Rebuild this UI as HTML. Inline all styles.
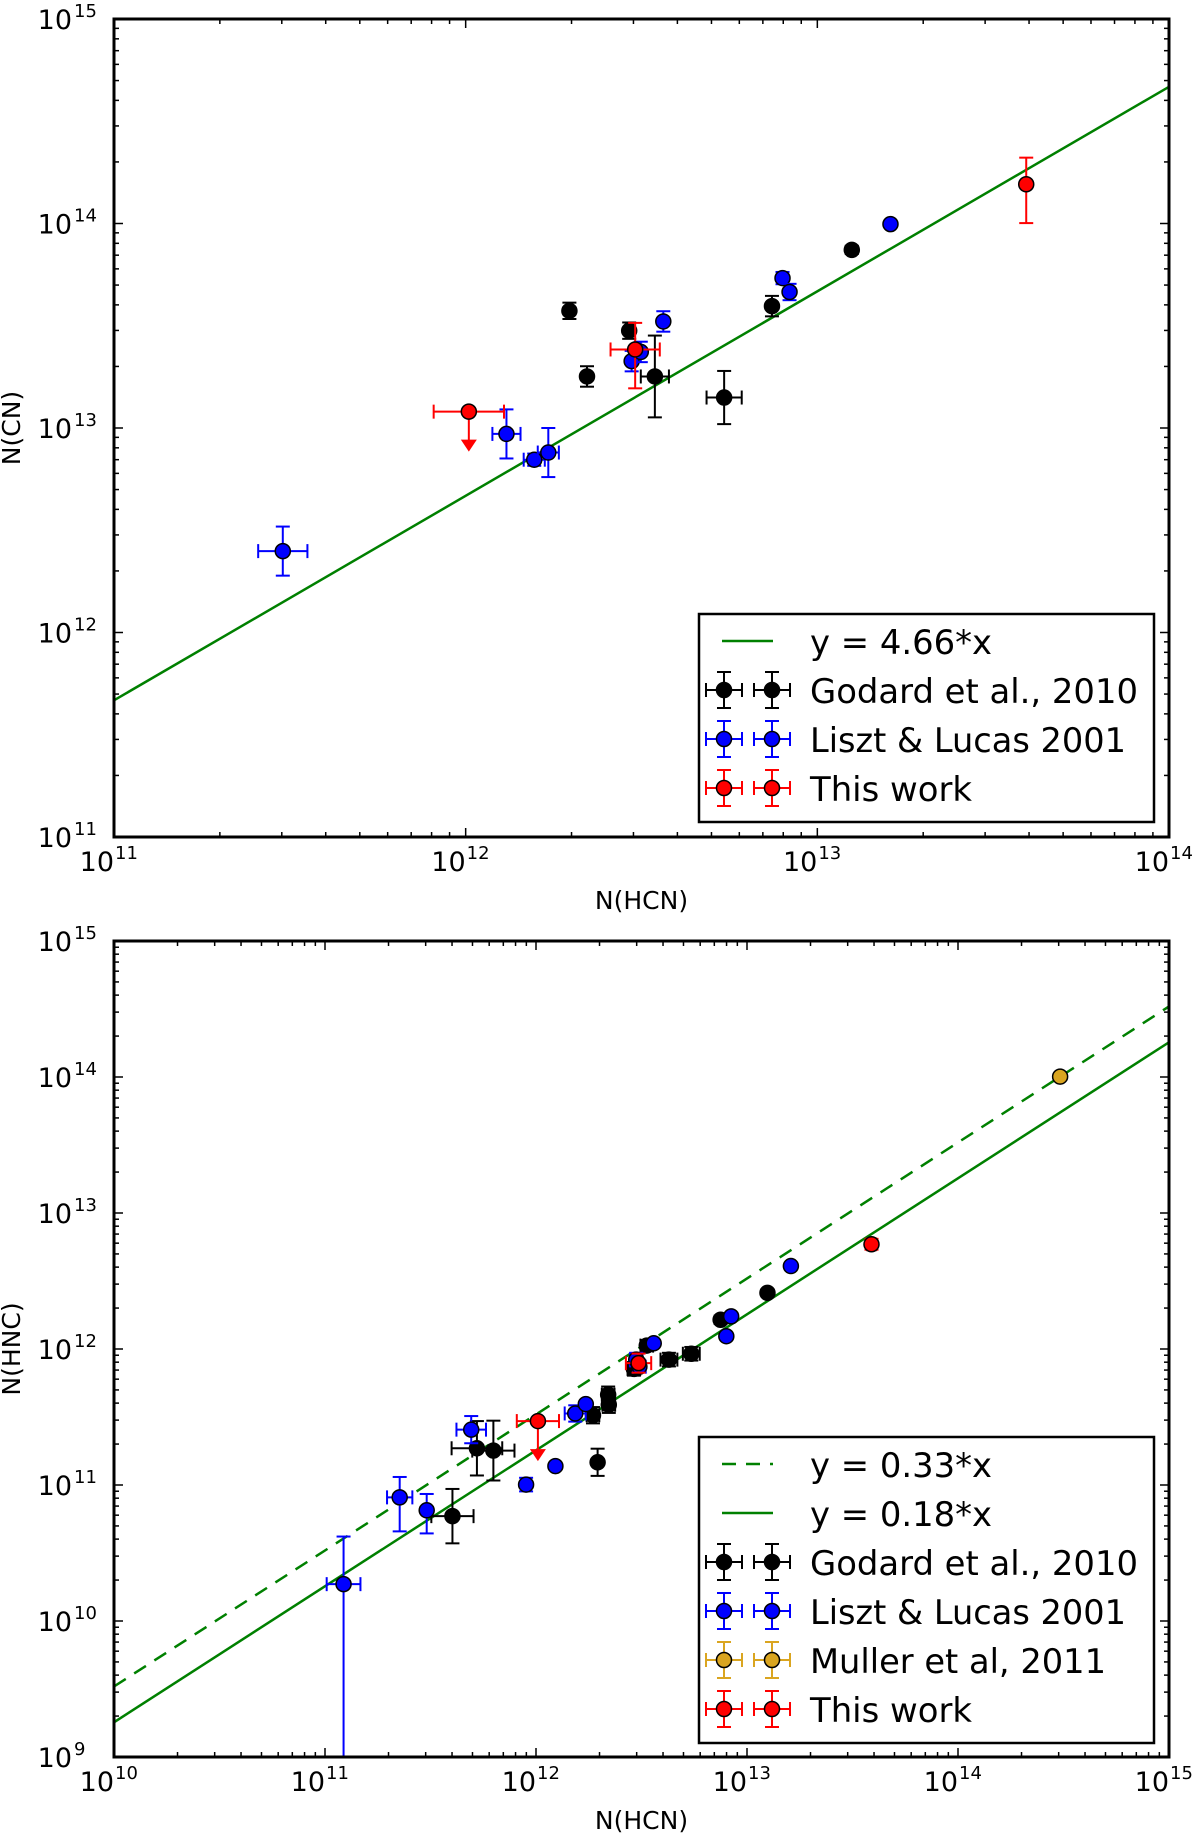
<!DOCTYPE html>
<html><head><meta charset="utf-8"><style>
html,body{margin:0;padding:0;background:#fff;}
svg{display:block;font-family:"DejaVu Sans","Liberation Sans",sans-serif;}
</style></head><body>
<svg id="fig" width="1200" height="1837" viewBox="0 0 1200 1837" xmlns="http://www.w3.org/2000/svg"></svg>
<script>
// ---- Top panel data (log10 values) ----
const topGodardX = [12.295, 12.345, 12.465, 12.538, 12.735, 12.871, 13.098];
const topGodardY = [13.573, 13.252, 13.476, 13.252, 13.149, 13.596, 13.871];
const topGodardXerr = [0, 0, 0, 0.04, 0.05, 0, 0];
const topGodardYerr = [0.04, 0.05, 0.04, 0.2, 0.13, 0.05, 0.02];
const topLisztX = [11.48, 12.116, 12.195, 12.235, 12.472, 12.498, 12.562, 12.901, 12.921, 13.208];
const topLisztY = [12.398, 12.971, 12.845, 12.880, 13.327, 13.372, 13.521, 13.733, 13.665, 13.997];
const topLisztXerr = [0.07, 0.04, 0.03, 0.03, 0, 0, 0, 0, 0, 0];
const topLisztYerr = [0.12, 0.12, 0.03, 0.12, 0.05, 0.05, 0.05, 0.03, 0.04, 0.0];
const topRedX = [12.482, 13.594];
const topRedY = [13.384, 14.192];
const topRedXerr = [0.07, 0.0];
const topRedYup = [0.13, 0.13];
const topRedYdn = [0.19, 0.19];
const topLimitX = [12.009];
const topLimitY = [13.080];
const topLimitXerr = [0.1];
const topFit = [4.66];

// ---- Bottom panel data (log10 values) ----
const botGodardX = [11.604, 11.720, 11.798, 12.292, 12.270, 12.342, 12.464, 12.525, 12.63, 12.736, 12.875, 13.097, 12.345];
const botGodardY = [10.771, 11.270, 11.253, 11.167, 11.513, 11.664, 11.854, 12.025, 11.922, 11.965, 12.215, 12.413, 11.59];
const botGodardXerr = [0.1, 0.12, 0.1, 0, 0.03, 0.03, 0.03, 0.03, 0.04, 0.04, 0, 0, 0.03];
const botGodardYerr = [0.2, 0.2, 0.22, 0.1, 0.06, 0.06, 0.05, 0.04, 0.05, 0.05, 0.03, 0.0, 0.06];
const botLisztX = [11.088, 11.354, 11.482, 11.693, 11.953, 12.092, 12.186, 12.236, 12.475, 12.558, 12.902, 12.925, 13.208, 12.49];
const botLisztY = [10.271, 10.909, 10.814, 11.407, 11.003, 11.139, 11.526, 11.595, 11.922, 12.042, 12.094, 12.240, 12.610, 11.87];
const botLisztXerr = [0.08, 0.06, 0.0, 0.07, 0.0, 0.0, 0.05, 0.0, 0.03, 0.0, 0, 0, 0, 0.03];
const botLisztYup = [0.35, 0.15, 0.12, 0.1, 0.05, 0.0, 0.06, 0.0, 0.05, 0.0, 0, 0, 0, 0.04];
const botLisztYdn = [1.3, 0.25, 0.17, 0.1, 0.05, 0.0, 0.06, 0.0, 0.05, 0.0, 0, 0, 0, 0.04];
const botRedX = [12.486, 13.590];
const botRedY = [11.896, 12.77];
const botRedXerr = [0.06, 0.02];
const botRedYerr = [0.07, 0.04];
const botLimitX = [12.009];
const botLimitY = [11.47];
const botLimitXerr = [0.1];
const botMullerX = [14.484];
const botMullerY = [14.003];
const botFits = [0.33, 0.18];

const NS = "http://www.w3.org/2000/svg";
const svg = document.getElementById('fig');
function mk(tag, attrs, parent) {
  const e = document.createElementNS(NS, tag);
  for (const k in attrs) e.setAttribute(k, attrs[k]);
  (parent || svg).appendChild(e);
  return e;
}

function panel(cfg) {
  const g = mk('g', {});
  
  
  const L = 114, R = 1169, T = cfg.top, B = cfg.bottom;
  const sx = v => L + (v - cfg.x0) / (cfg.x1 - cfg.x0) * (R - L);
  const sy = v => B - (v - cfg.y0) / (cfg.y1 - cfg.y0) * (B - T);
  const clipId = 'clip' + cfg.name;
  const defs = mk('defs', {}, g);
  const cp = mk('clipPath', {id: clipId}, defs);
  mk('rect', {x: L, y: T, width: R - L, height: B - T}, cp);
  const ticks = mk('g', {stroke: '#000', 'stroke-width': 1.5}, g);
  
  
  for (let d = cfg.x0; d <= cfg.x1; d++) {
    for (let m = 1; m <= 9; m++) {
      const v = d + Math.log10(m);
      if (v > cfg.x1 + 1e-9) break;
      const len = m === 1 ? 9 : 5;
      const x = sx(v);
      mk('line', {x1: x, y1: B, x2: x, y2: B - len}, ticks);
      mk('line', {x1: x, y1: T, x2: x, y2: T + len}, ticks);
    }
    const lbl = mk('text', {x: sx(d), y: B + 34, 'font-size': 27, 'text-anchor': 'end'}, g);
    lbl.textContent = '10';
    
    
    const sup = mk('text', {x: sx(d) + 1, y: B + 22, 'font-size': 18}, g);
    sup.textContent = String(d);
  }
  for (let d = cfg.y0; d <= cfg.y1; d++) {
    for (let m = 1; m <= 9; m++) {
      const v = d + Math.log10(m);
      if (v > cfg.y1 + 1e-9) break;
      const len = m === 1 ? 9 : 5;
      const y = sy(v);
      mk('line', {x1: L, y1: y, x2: L + len, y2: y}, ticks);
      mk('line', {x1: R, y1: y, x2: R - len, y2: y}, ticks);
    }
    const lbl = mk('text', {x: 72, y: sy(d) + 10, 'font-size': 27, 'text-anchor': 'end'}, g);
    lbl.textContent = '10';
    
    
    const sup = mk('text', {x: 74, y: sy(d) - 2, 'font-size': 18}, g);
    sup.textContent = String(d);
  }
  const xt = mk('text', {x: (L + R) / 2, y: B + 72, 'font-size': 25, 'text-anchor': 'middle'}, g);
  xt.textContent = cfg.xlabel;
  
  
  const yt = mk('text', {x: 0, y: 0, 'font-size': 25, 'text-anchor': 'middle', transform: `translate(20,${(T + B) / 2}) rotate(-90)`}, g);
  yt.textContent = cfg.ylabel;
  
  

  const plot = mk('g', {'clip-path': `url(#${clipId})`}, g);
  cfg.fits.forEach((f, i) => {
    const lx0 = cfg.x0, lx1 = cfg.x1;
    const ln = mk('line', {x1: sx(lx0), y1: sy(lx0 + Math.log10(f)), x2: sx(lx1), y2: sy(lx1 + Math.log10(f)), stroke: '#008000', 'stroke-width': 2.5}, plot);
    if (cfg.fitDash[i]) ln.setAttribute('stroke-dasharray', '14,10');
    
    
  });
  cfg.series.forEach(s => {
    const sg = mk('g', {}, plot);
    
    
    s.x.forEach((xv, i) => {
      const cx = sx(xv), cy = sy(s.y[i]);
      const ex = s.xe ? s.xe[i] : 0;
      const eu = s.yu ? s.yu[i] : 0, ed = s.yd ? s.yd[i] : 0;
      const st = {stroke: s.ecolor, 'stroke-width': 2};
      const cap = 7;
      if (ex > 0) {
        const xa = sx(xv - ex), xb = sx(xv + ex);
        mk('line', Object.assign({x1: xa, y1: cy, x2: xb, y2: cy}, st), sg);
        mk('line', Object.assign({x1: xa, y1: cy - cap, x2: xa, y2: cy + cap}, st), sg);
        mk('line', Object.assign({x1: xb, y1: cy - cap, x2: xb, y2: cy + cap}, st), sg);
      }
      if (eu > 0 || ed > 0) {
        const ya = sy(s.y[i] - ed), yb = sy(s.y[i] + eu);
        mk('line', Object.assign({x1: cx, y1: ya, x2: cx, y2: yb}, st), sg);
        mk('line', Object.assign({x1: cx - cap, y1: ya, x2: cx + cap, y2: ya}, st), sg);
        mk('line', Object.assign({x1: cx - cap, y1: yb, x2: cx + cap, y2: yb}, st), sg);
      }
      if (s.limit) {
        const ya = cy + 38;
        mk('line', Object.assign({x1: cx, y1: cy, x2: cx, y2: ya - 8}, st), sg);
        mk('polygon', {points: `${cx - 8},${ya - 10} ${cx + 8},${ya - 10} ${cx},${ya + 2}`, fill: s.ecolor}, sg);
      }
      const c = mk('circle', {cx: cx, cy: cy, r: 7.5, fill: s.color, stroke: '#000', 'stroke-width': 1.5}, sg);
      
      
    });
  });
  const fr = mk('rect', {x: L, y: T, width: R - L, height: B - T, fill: 'none', stroke: '#000', 'stroke-width': 3}, g);
  
  
  const lg = mk('g', {}, g);
  
  
  const lgT = cfg.legTop, rows = cfg.legend;
  const lgH = rows.length * 49 + 12;
  mk('rect', {x: 699, y: lgT, width: 455, height: lgH, fill: '#fff', stroke: '#000', 'stroke-width': 2.5}, lg);
  rows.forEach((r, i) => {
    const cy = lgT + 27 + i * 49;
    const eg = mk('g', {}, lg);
    
    
    if (r.type === 'line') {
      const ln = mk('line', {x1: 722, y1: cy, x2: 773, y2: cy, stroke: '#008000', 'stroke-width': 2.5}, eg);
      if (r.dash) ln.setAttribute('stroke-dasharray', '14,10');
    } else {
      [724, 772].forEach(mx => {
        const st = {stroke: r.ecolor, 'stroke-width': 2};
        mk('line', Object.assign({x1: mx - 18, y1: cy, x2: mx + 18, y2: cy}, st), eg);
        mk('line', Object.assign({x1: mx, y1: cy - 18, x2: mx, y2: cy + 18}, st), eg);
        mk('line', Object.assign({x1: mx - 18, y1: cy - 7, x2: mx - 18, y2: cy + 7}, st), eg);
        mk('line', Object.assign({x1: mx + 18, y1: cy - 7, x2: mx + 18, y2: cy + 7}, st), eg);
        mk('line', Object.assign({x1: mx - 7, y1: cy - 18, x2: mx + 7, y2: cy - 18}, st), eg);
        mk('line', Object.assign({x1: mx - 7, y1: cy + 18, x2: mx + 7, y2: cy + 18}, st), eg);
        mk('circle', {cx: mx, cy: cy, r: 7.5, fill: r.color, stroke: '#000', 'stroke-width': 1.5}, eg);
      });
    }
    const t = mk('text', {x: 810, y: cy + 13, 'font-size': 34, textLength: r.w, lengthAdjust: 'spacingAndGlyphs'}, eg);
    t.textContent = r.label;
  });
}

panel({
  name: 'top-panel', top: 19, bottom: 837, x0: 11, x1: 14, y0: 11, y1: 15,
  xlabel: 'N(HCN)', ylabel: 'N(CN)', fits: topFit, fitDash: [false],
  series: [
    {name: 'godard-2010', x: topGodardX, y: topGodardY, xe: topGodardXerr, yu: topGodardYerr, yd: topGodardYerr, color: '#000', ecolor: '#000'},
    {name: 'liszt-lucas-2001', x: topLisztX, y: topLisztY, xe: topLisztXerr, yu: topLisztYerr, yd: topLisztYerr, color: '#0000ff', ecolor: '#0000ff'},
    {name: 'this-work', x: topRedX, y: topRedY, xe: topRedXerr, yu: topRedYup, yd: topRedYdn, color: '#ff0000', ecolor: '#ff0000'},
    {name: 'this-work-limit', x: topLimitX, y: topLimitY, xe: topLimitXerr, color: '#ff0000', ecolor: '#ff0000', limit: true}
  ],
  legTop: 614,
  legend: [
    {type: 'line', label: 'y = 4.66*x', w: 182},
    {type: 'pt', color: '#000', ecolor: '#000', label: 'Godard et al., 2010', w: 328},
    {type: 'pt', color: '#0000ff', ecolor: '#0000ff', label: 'Liszt & Lucas 2001', w: 316},
    {type: 'pt', color: '#ff0000', ecolor: '#ff0000', label: 'This work', w: 162}
  ]
});

panel({
  name: 'bottom-panel', top: 941, bottom: 1757, x0: 10, x1: 15, y0: 9, y1: 15,
  xlabel: 'N(HCN)', ylabel: 'N(HNC)', fits: botFits, fitDash: [true, false],
  series: [
    {name: 'godard-2010', x: botGodardX, y: botGodardY, xe: botGodardXerr, yu: botGodardYerr, yd: botGodardYerr, color: '#000', ecolor: '#000'},
    {name: 'liszt-lucas-2001', x: botLisztX, y: botLisztY, xe: botLisztXerr, yu: botLisztYup, yd: botLisztYdn, color: '#0000ff', ecolor: '#0000ff'},
    {name: 'muller-2011', x: botMullerX, y: botMullerY, color: '#daa520', ecolor: '#daa520'},
    {name: 'this-work', x: botRedX, y: botRedY, xe: botRedXerr, yu: botRedYerr, yd: botRedYerr, color: '#ff0000', ecolor: '#ff0000'},
    {name: 'this-work-limit', x: botLimitX, y: botLimitY, xe: botLimitXerr, color: '#ff0000', ecolor: '#ff0000', limit: true}
  ],
  legTop: 1437,
  legend: [
    {type: 'line', dash: true, label: 'y = 0.33*x', w: 182},
    {type: 'line', label: 'y = 0.18*x', w: 182},
    {type: 'pt', color: '#000', ecolor: '#000', label: 'Godard et al., 2010', w: 328},
    {type: 'pt', color: '#0000ff', ecolor: '#0000ff', label: 'Liszt & Lucas 2001', w: 316},
    {type: 'pt', color: '#daa520', ecolor: '#daa520', label: 'Muller et al, 2011', w: 296},
    {type: 'pt', color: '#ff0000', ecolor: '#ff0000', label: 'This work', w: 162}
  ]
});
</script>
</body></html>
